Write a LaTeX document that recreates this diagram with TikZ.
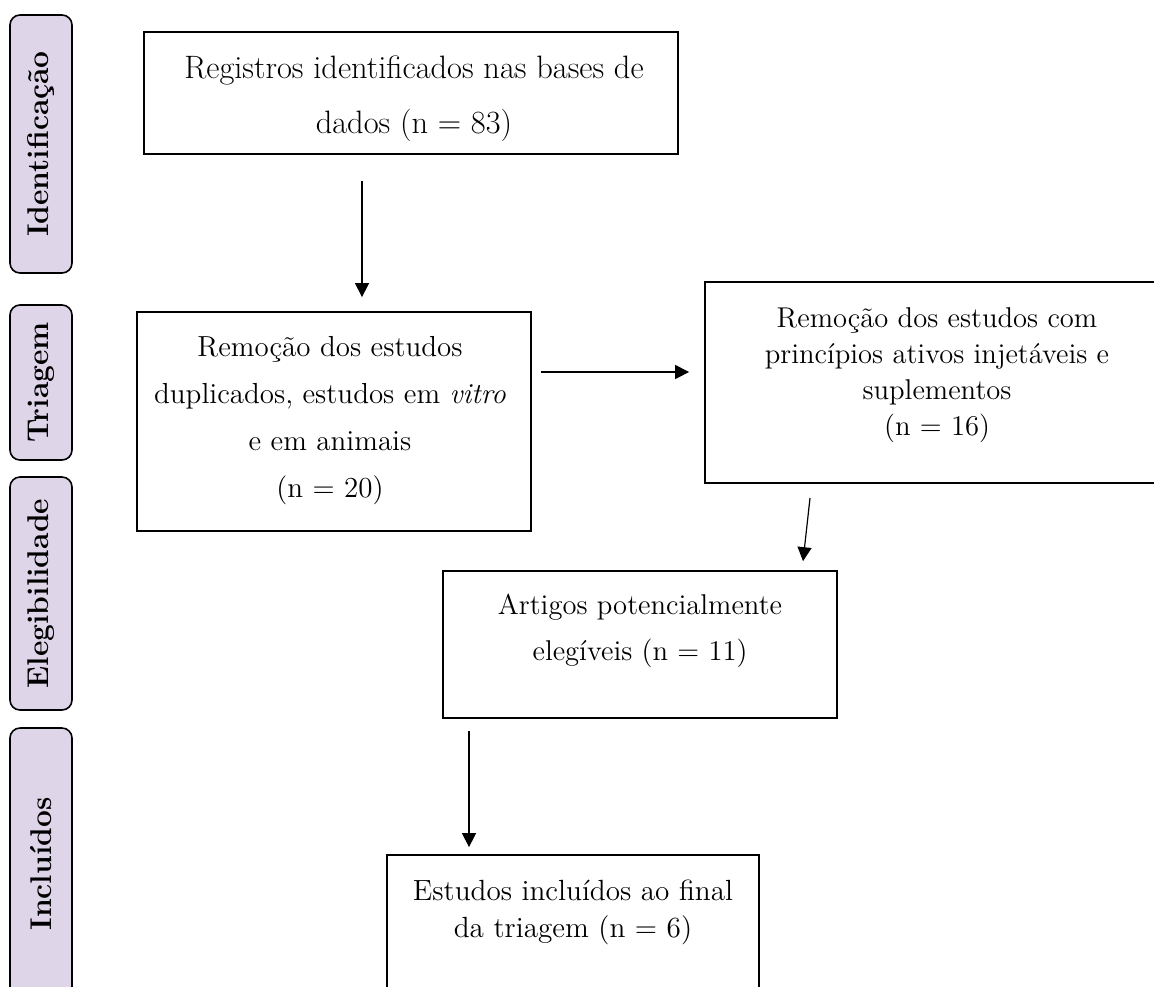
\documentclass[tikz,border=0pt]{standalone}
\usepackage{fontspec}
\usepackage{tikz}
\usetikzlibrary{arrows.meta}
\definecolor{lilas}{RGB}{223,213,233}

\begin{document}
\begin{tikzpicture}[x=0.5pt,y=-0.5pt,>={Triangle[length=7pt,width=7pt]},
	etapa/.style={draw=black,fill=lilas,rounded corners=5pt,line width=0.8pt,rotate=90,minimum height=31pt,inner sep=0pt,font=\fontsize{15}{18}\selectfont\bfseries},
	caixa/.style={draw=black,line width=0.9pt,inner sep=0pt},
	seta/.style={->,line width=0.6pt}]
	\tikzstyle{every node}=[align=center,inner sep=0pt]
	\useasboundingbox (0,0) rectangle (1154,986);
	\clip (0,0) rectangle (1154,986);
	% fases
	\node[etapa,minimum width=129pt] (id) at (41,144) {Identificação};
	\node[etapa,minimum width=77.5pt] (tr) at (41,382.5) {Triagem};
	\node[etapa,minimum width=116.5pt] (el) at (41,593.5) {Elegibilidade};
	\node[etapa,minimum width=136pt] (in) at (41,864) {Incluídos};
	% caixas
	\node[caixa,minimum width=267pt,minimum height=61pt] (a) at (411,93) {};
	\node[caixa,minimum width=197pt,minimum height=109.5pt] (b) at (334,421.5) {};
	\node[caixa,minimum width=232pt,minimum height=100.5pt] (c) at (937,382.5) {};
	\node[caixa,minimum width=197pt,minimum height=73.5pt] (d) at (640,644.5) {};
	\node[caixa,minimum width=186pt,minimum height=72.5pt] (e) at (573,927.5) {};
	% textos
	\node[font=\fontsize{16.2}{27.5}\selectfont] (ta) at (414,99)
		{Registros identificados nas bases de\\dados (n = 83)};
	\node[font=\fontsize{14.5}{23.5}\selectfont] (tb) at (330,421)
		{Remoção dos estudos\\duplicados, estudos em \textit{vitro}\\e em animais\\(n = 20)};
	\node[font=\fontsize{14.3}{18}\selectfont] (tc) at (937,375)
		{Remoção dos estudos com\\princípios ativos injetáveis e\\suplementos\\(n = 16)};
	\node[font=\fontsize{14.3}{23}\selectfont] (td) at (640,631)
		{Artigos potencialmente\\elegíveis (n = 11)};
	\node[font=\fontsize{14.6}{18.5}\selectfont] (te) at (573,912)
		{Estudos incluídos ao final\\da triagem (n = 6)};
	% setas
	\coordinate (ab) at (362,240);
	\coordinate (bc) at (615,372);
	\coordinate (cd) at (810,498);
	\coordinate (de) at (469,790);
	\draw[seta,shorten <=13pt,shorten >=7pt] (a.south -| ab) to (b.north -| ab);
	\draw[seta,shorten <=4.5pt,shorten >=7.5pt] (b.east |- bc) to (c.west |- bc);
	\draw[seta,shorten >=4.5pt] (cd) to ([xshift=81pt]d.north);
	\draw[seta,shorten <=6pt,shorten >=3.5pt] (d.south -| de) to (e.north -| de);
\end{tikzpicture}
\end{document}
